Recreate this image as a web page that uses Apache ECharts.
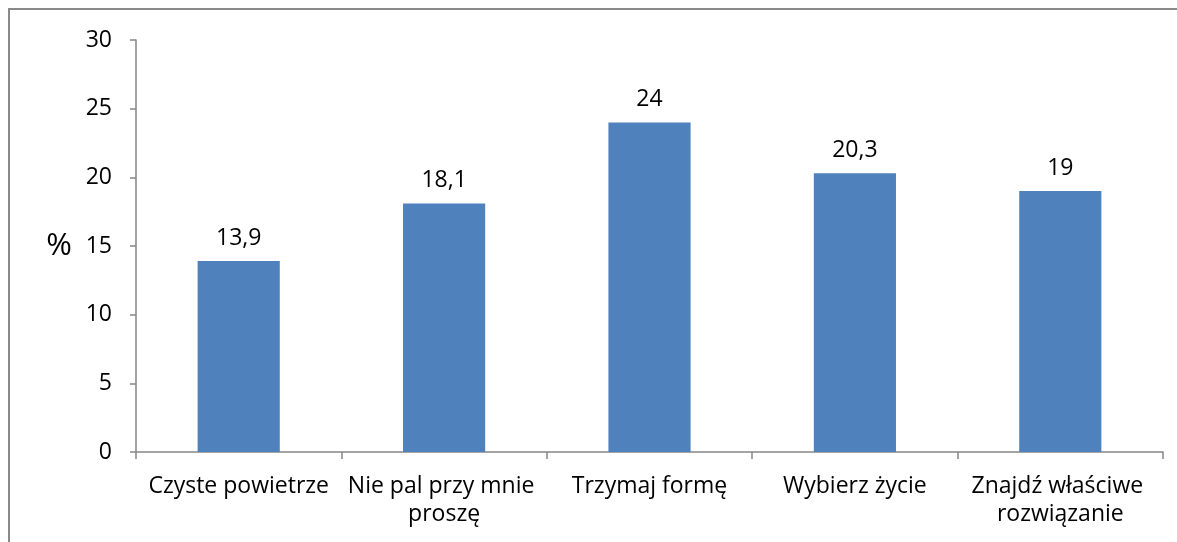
<!DOCTYPE html>
<html>
<head>
<meta charset="utf-8">
<script src="https://cdn.jsdelivr.net/npm/echarts@6/dist/echarts.min.js"></script>
<style>
  html, body { margin: 0; padding: 0; background: #fff; }
  #chart { width: 1177px; height: 542px; }
</style>
</head>
<body>
<div id="chart"></div>
<script>
  // kampanie i odsetek wskazań
  var categories = ['Czyste powietrze', 'Nie pal przy mnie proszę', 'Trzymaj formę', 'Wybierz życie', 'Znajdź właściwe rozwiązanie']
  var values = [13.9, 18.1, 24, 20.3, 19]
  var yTicks = [0, 5, 10, 15, 20, 25, 30]

  var font = '"Open Sans", "Noto Sans", sans-serif'
  var axisGray = '#868686'

  var myChart = echarts.init(document.getElementById('chart'))

  var option = {
    animation: false,
    graphic: [{
      type: 'rect',
      shape: { x: 9, y: 9, width: 1300, height: 700 },
      style: { fill: 'none', stroke: '#8a8a8a', lineWidth: 2 },
      silent: true
    }],
    grid: {
      left: 136,
      right: 14,
      top: 40,
      bottom: 90,
      containLabel: false,
      outerBoundsMode: 'none'
    },
    xAxis: {
      type: 'category',
      data: categories,
      axisLine: { lineStyle: { color: axisGray, width: 1.5 } },
      axisTick: { show: true, length: 7, lineStyle: { color: axisGray, width: 1.5 } },
      axisLabel: {
        color: '#000',
        fontFamily: font,
        fontSize: 23,
        lineHeight: 28,
        margin: 20,
        width: 222,
        overflow: 'break',
        interval: 0
      }
    },
    yAxis: {
      type: 'value',
      min: yTicks[0],
      max: yTicks[yTicks.length - 1],
      interval: 5,
      name: '%',
      nameLocation: 'middle',
      nameRotate: 0,
      nameGap: 64,
      nameTextStyle: { color: '#000', fontFamily: font, fontSize: 31 },
      splitLine: { show: false },
      axisLine: { show: true, lineStyle: { color: axisGray, width: 1.5 } },
      axisTick: { show: true, length: 6, lineStyle: { color: axisGray, width: 1.5 } },
      axisLabel: {
        color: '#000',
        fontFamily: font,
        fontSize: 23,
        margin: 24
      }
    },
    series: [{
      type: 'bar',
      data: values,
      barWidth: '40%',
      itemStyle: { color: '#4F81BD' },
      label: {
        show: true,
        position: 'top',
        distance: 11,
        color: '#000',
        fontFamily: font,
        fontSize: 23,
        formatter: function (p) {
          return String(p.value).replace('.', ',')
        }
      }
    }]
  }
  myChart.setOption(option)
</script>
</body>
</html>
